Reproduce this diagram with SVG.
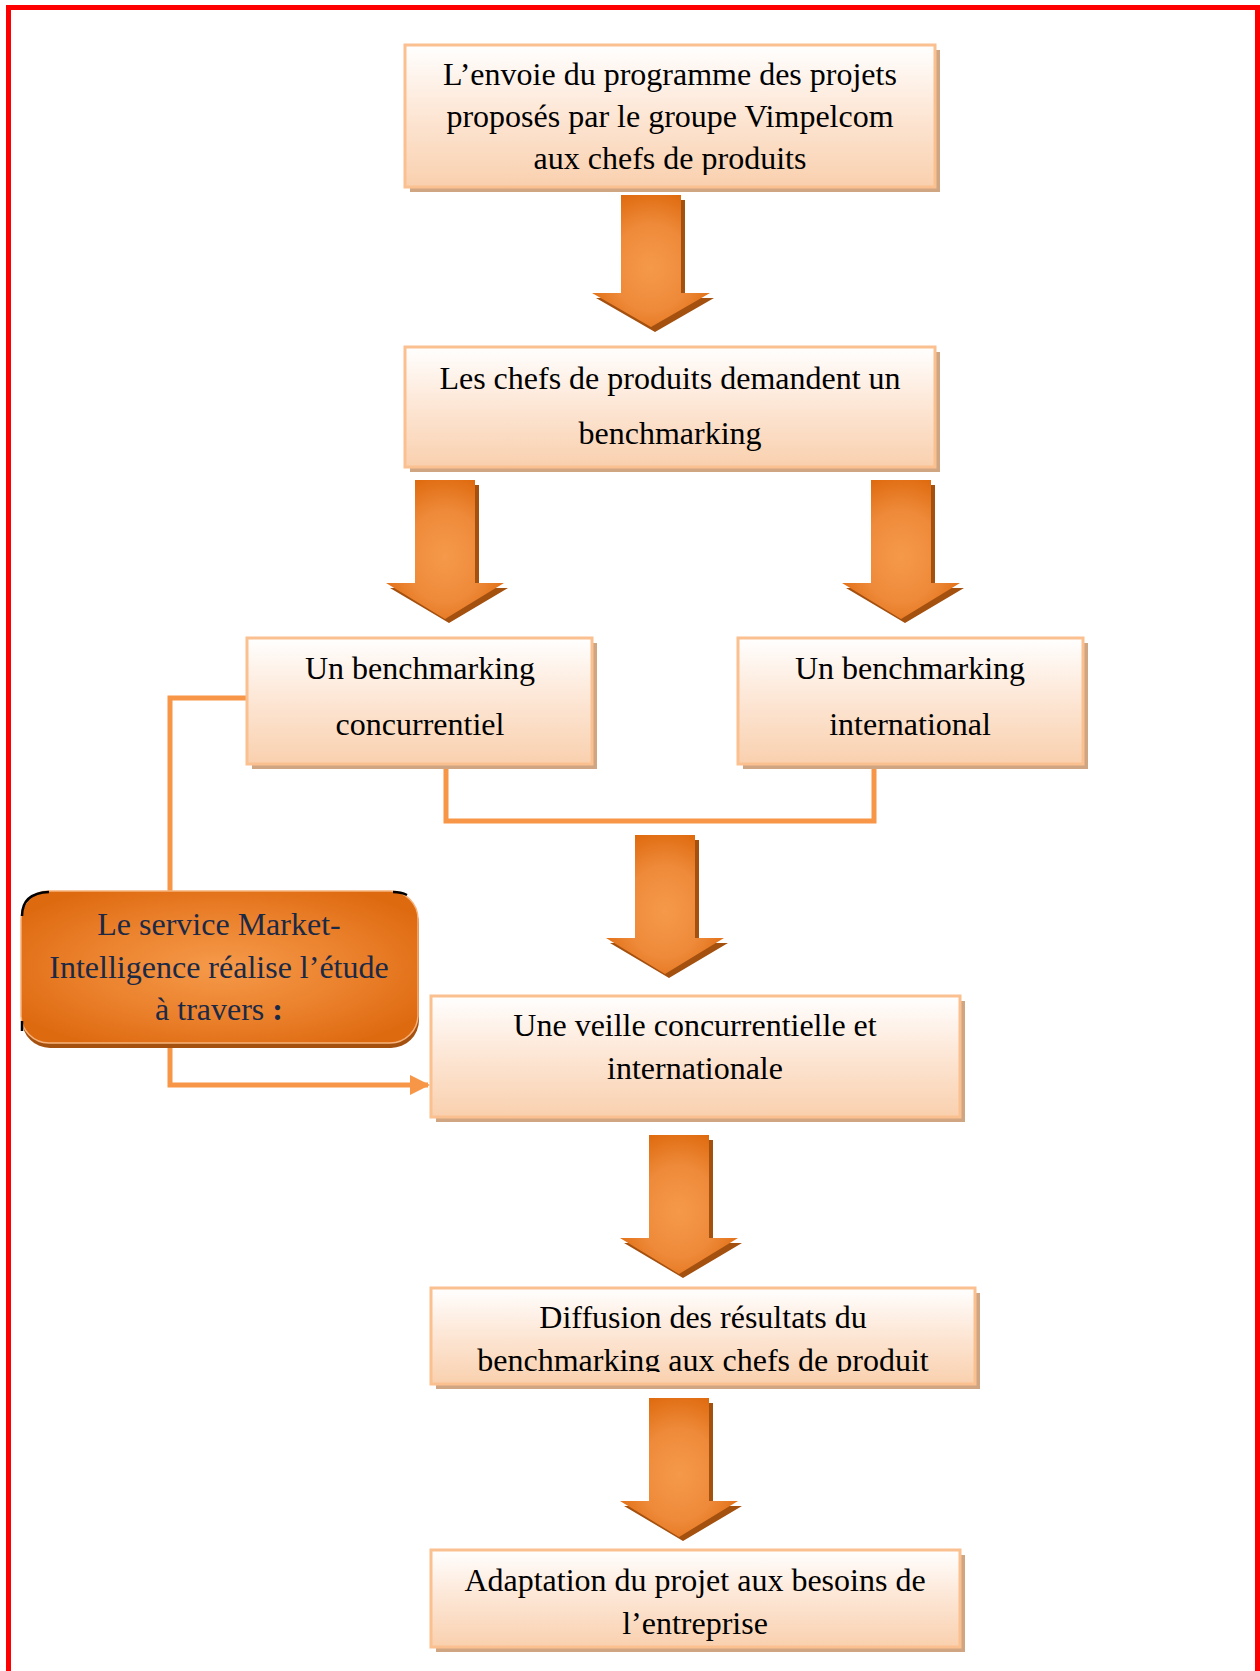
<svg xmlns="http://www.w3.org/2000/svg" width="1260" height="1671" viewBox="0 0 1260 1671">
  <defs>
    <style>
      .frame { fill: none; stroke: #ff0000; stroke-width: 5; }
      .box { fill: url(#boxFill); stroke: #fbc08f; stroke-width: 3; }
      .box-shadow { fill: #cfa582; }
      .label { font-family: "Liberation Serif", "Times New Roman", serif; font-size: 32px; fill: #000; text-anchor: middle; }
      .label-dark { font-family: "Liberation Serif", "Times New Roman", serif; font-size: 32px; fill: #1b2945; text-anchor: middle; }
      .arrow { fill: url(#arrowFill); }
      .arrow-shadow { fill: #a4500f; }
      .link { fill: none; stroke: #f79646; stroke-width: 5; }
      .corner { fill: none; stroke: #000; stroke-width: 2.5; }
    </style>
    <linearGradient id="boxFill" x1="0" y1="0" x2="0" y2="1">
      <stop offset="0" stop-color="#ffffff"/>
      <stop offset="0.45" stop-color="#fde8d8"/>
      <stop offset="1" stop-color="#f9d0ae"/>
    </linearGradient>
    <radialGradient id="arrowFill" cx="0.5" cy="0.55" r="0.6">
      <stop offset="0" stop-color="#f59a4a"/>
      <stop offset="0.55" stop-color="#ee8a3a"/>
      <stop offset="1" stop-color="#df6a0e"/>
    </radialGradient>
    <radialGradient id="orangeFill" cx="0.5" cy="0.5" r="0.6">
      <stop offset="0" stop-color="#f59a4a"/>
      <stop offset="0.6" stop-color="#ea7f2a"/>
      <stop offset="1" stop-color="#de6a10"/>
    </radialGradient>
    <marker id="tip" viewBox="0 0 10 10" refX="9" refY="5" markerWidth="4" markerHeight="4" orient="auto" markerUnits="strokeWidth">
      <path d="M0,0 L10,5 L0,10 z" fill="#f79646"/>
    </marker>
    <!-- block arrows, origin at top-left of shaft -->
    <symbol id="arrowShort" overflow="visible">
      <path class="arrow-shadow" d="M4,5 H64 V103 H93 L34,137 L-25,103 H4 z"/>
      <path class="arrow" d="M0,0 H60 V98 H89 L30,132 L-29,98 H0 z"/>
    </symbol>
    <symbol id="arrowLong" overflow="visible">
      <path class="arrow-shadow" d="M4,5 H64 V108 H93 L34,143 L-25,108 H4 z"/>
      <path class="arrow" d="M0,0 H60 V103 H89 L30,139 L-29,103 H0 z"/>
    </symbol>
    <clipPath id="clipTop"><rect x="405" y="45" width="530" height="130"/></clipPath>
    <clipPath id="clipDiff"><rect x="431" y="1288" width="544" height="84"/></clipPath>
  </defs>

  <rect class="frame" x="8.5" y="7.5" width="1249" height="1680"/>

  <g id="connectors">
    <path class="link" d="M446,764 V821 H874 V764"/>
    <path class="link" d="M248,698 H170 V892"/>
    <path class="link" d="M170,1047 V1085 H428" marker-end="url(#tip)"/>
  </g>

  <g id="arrows">
    <use href="#arrowShort" x="621" y="195"/>
    <use href="#arrowLong" x="415" y="480"/>
    <use href="#arrowLong" x="871" y="480"/>
    <use href="#arrowLong" x="635" y="835"/>
    <use href="#arrowLong" x="649" y="1135"/>
    <use href="#arrowLong" x="649" y="1398"/>
  </g>

  <g id="n1">
    <rect class="box-shadow" x="410" y="50" width="530" height="142"/>
    <rect class="box" x="405" y="45" width="530" height="142"/>
    <g clip-path="url(#clipTop)">
      <text class="label" x="670" y="85">L’envoie du programme des projets</text>
      <text class="label" x="670" y="127">proposés par le groupe Vimpelcom</text>
      <text class="label" x="670" y="169">aux chefs de produits</text>
    </g>
  </g>

  <g id="n2">
    <rect class="box-shadow" x="410" y="352" width="530" height="120"/>
    <rect class="box" x="405" y="347" width="530" height="120"/>
    <text class="label" x="670" y="389">Les chefs de produits demandent un</text>
    <text class="label" x="670" y="444">benchmarking</text>
  </g>

  <g id="n3">
    <rect class="box-shadow" x="252" y="643" width="345" height="126"/>
    <rect class="box" x="247" y="638" width="345" height="126"/>
    <text class="label" x="420" y="679">Un benchmarking</text>
    <text class="label" x="420" y="735">concurrentiel</text>
  </g>

  <g id="n4">
    <rect class="box-shadow" x="743" y="643" width="345" height="126"/>
    <rect class="box" x="738" y="638" width="345" height="126"/>
    <text class="label" x="910" y="679">Un benchmarking</text>
    <text class="label" x="910" y="735">international</text>
  </g>

  <g id="n5">
    <rect x="22" y="896" width="397" height="152" rx="28" fill="#a4500f"/>
    <rect x="21" y="891" width="397" height="152" rx="28" fill="url(#orangeFill)" stroke="#f6b27a" stroke-width="1.5"/>
    <!-- dark outline fragments on the corners -->
    <path class="corner" d="M22,916 Q22,893 49,892"/>
    <path class="corner" d="M393,892 Q401,892 407,895"/>
    <path class="corner" d="M22,1021 V1031"/>
    <text class="label-dark" x="219" y="935">Le service Market-</text>
    <text class="label-dark" x="219" y="978">Intelligence réalise l’étude</text>
    <text class="label-dark" x="219" y="1020">à travers <tspan font-weight="bold">:</tspan></text>
  </g>

  <g id="n6">
    <rect class="box-shadow" x="436" y="1001" width="529" height="121"/>
    <rect class="box" x="431" y="996" width="529" height="121"/>
    <text class="label" x="695" y="1036">Une veille concurrentielle et</text>
    <text class="label" x="695" y="1079">internationale</text>
  </g>

  <g id="n7">
    <rect class="box-shadow" x="436" y="1293" width="544" height="96"/>
    <rect class="box" x="431" y="1288" width="544" height="96"/>
    <g clip-path="url(#clipDiff)">
      <text class="label" x="703" y="1328">Diffusion des résultats du</text>
      <text class="label" x="703" y="1371">benchmarking aux chefs de produit</text>
    </g>
  </g>

  <g id="n8">
    <rect class="box-shadow" x="436" y="1555" width="529" height="97"/>
    <rect class="box" x="431" y="1550" width="529" height="97"/>
    <text class="label" x="695" y="1591">Adaptation du projet aux besoins de</text>
    <text class="label" x="695" y="1634">l’entreprise</text>
  </g>
</svg>
